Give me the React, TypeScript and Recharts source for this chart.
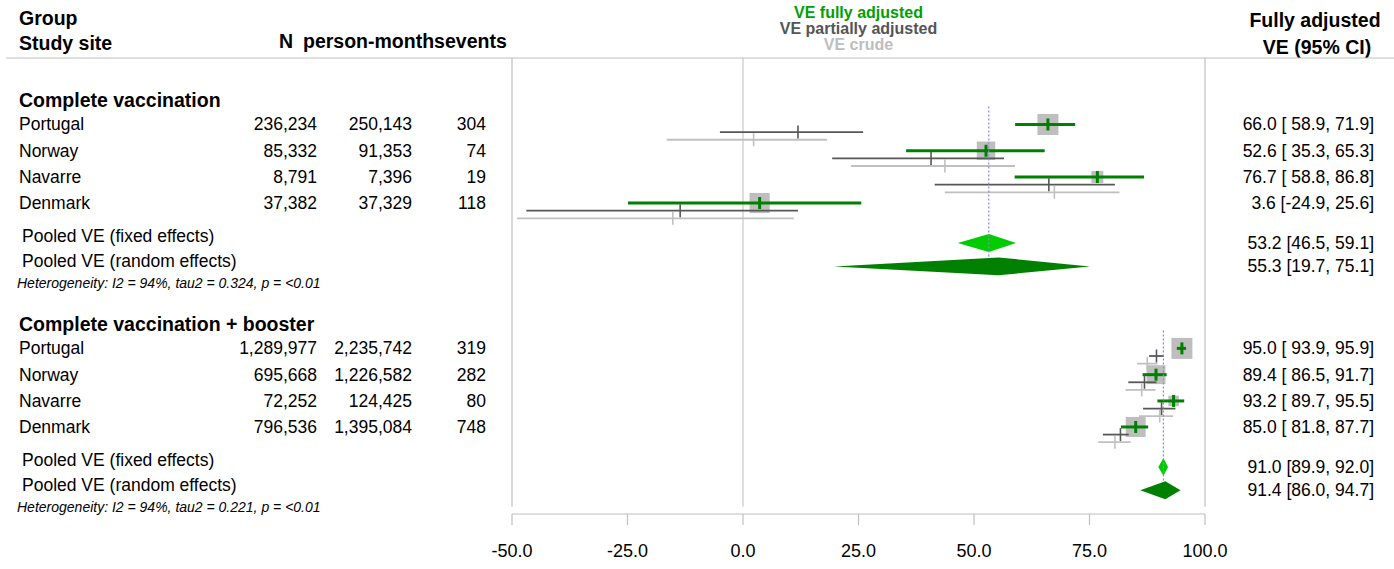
import React from 'react';
import { ComposedChart, XAxis, YAxis, Scatter } from 'recharts';

type Est = [number, number, number]; // [estimate, lower, upper]

// ---------------- data ----------------
const groupNames = ['Complete vaccination', 'Complete vaccination + booster'];
const studySites = ['Portugal', 'Norway', 'Navarre', 'Denmark'];

const nCompleted = ['236,234', '85,332', '8,791', '37,382'];
const personMonthsCompleted = ['250,143', '91,353', '7,396', '37,329'];
const eventsCompleted = ['304', '74', '19', '118'];

const nBooster = ['1,289,977', '695,668', '72,252', '796,536'];
const personMonthsBooster = ['2,235,742', '1,226,582', '124,425', '1,395,084'];
const eventsBooster = ['319', '282', '80', '748'];

const veFullCompleted: Est[] = [[66.0, 58.9, 71.9], [52.6, 35.3, 65.3], [76.7, 58.8, 86.8], [3.6, -24.9, 25.6]];
const vePartialCompleted: Est[] = [[11.9, -5.0, 26.0], [40.7, 19.3, 56.5], [66.2, 41.5, 80.5], [-13.6, -46.9, 11.9]];
const veCrudeCompleted: Est[] = [[2.3, -16.5, 18.2], [43.7, 23.4, 58.9], [67.4, 43.7, 81.5], [-15.2, -48.9, 11.0]];

const veFullBooster: Est[] = [[95.0, 93.9, 95.9], [89.4, 86.5, 91.7], [93.2, 89.7, 95.5], [85.0, 81.8, 87.7]];
const vePartialBooster: Est[] = [[89.5, 87.9, 91.1], [86.9, 83.4, 89.5], [90.6, 86.6, 93.6], [81.7, 77.9, 83.5]];
const veCrudeBooster: Est[] = [[87.5, 85.3, 89.7], [86.3, 82.8, 89.3], [90.2, 85.7, 93.1], [80.5, 76.9, 83.9]];

const boxWeightCompleted = [1.0, 0.88, 0.57, 0.96];
const boxWeightBooster = [1.0, 0.9, 0.5, 0.95];

const pooledFixed: Est[] = [[53.2, 46.5, 59.1], [91.0, 89.9, 92.0]];
const pooledRandom: Est[] = [[55.3, 19.7, 75.1], [91.4, 86.0, 94.7]];

const hetI2 = ['94%', '94%'];
const hetTau2 = ['0.324', '0.221'];
const hetP = ['<0.01', '<0.01'];

const xTicks = [-50, -25, 0, 25, 50, 75, 100];

// ---------------- layout / style ----------------
const FONT = '"Liberation Sans", Arial, Helvetica, sans-serif';
const W = 1394;
const H = 569;
const Y_MIN = -2.207;
const Y_MAX = 17.352;
const GROUP_SHIFT = [0, 8.52];
const R_HEADER = 1.6;
const R_STUDY = [2.53, 3.53, 4.53, 5.52];
const R_FIXED = 7.04;
const R_RANDOM = 7.93;
const R_FIXED_LABEL = 6.77;
const R_RANDOM_LABEL = 7.72;
const R_HET = 8.56;
const OFF_PARTIAL = 0.29;
const OFF_CRUDE = 0.58;
const DIAMOND_H = 0.34;
const GRID_BOTTOM = 17.08;

const GREEN = '#008000';
const GREEN_LIGHT = '#00CC00';
const DARK = '#575757';
const LIGHT = '#C0C0C0';
const BOX = '#BEBEBE';
const RULE = '#C0C0C0';

const COL = { name: 19, pooled: 22, het: 17, n: 317, pm: 412, ev: 486, ve: 1374 };

const groups = [
  { full: veFullCompleted, partial: vePartialCompleted, crude: veCrudeCompleted, box: boxWeightCompleted, n: nCompleted, pm: personMonthsCompleted, ev: eventsCompleted },
  { full: veFullBooster, partial: vePartialBooster, crude: veCrudeBooster, box: boxWeightBooster, n: nBooster, pm: personMonthsBooster, ev: eventsBooster },
];

const fmtStudy = (e: Est) => `${e[0].toFixed(1)} [${e[1].toFixed(1).padStart(5, ' ')}, ${e[2].toFixed(1)}]`;
const fmtPooled = (e: Est) => `${e[0].toFixed(1)} [${e[1].toFixed(1)}, ${e[2].toFixed(1)}]`;

const Empty = () => <g />;

function segment(key: string, pts: { x: number; y: number }[], stroke: string, width: number, dash?: string) {
  return (
    <Scatter
      key={key}
      data={pts}
      isAnimationActive={false}
      shape={Empty}
      lineType="joint"
      line={(p: any) => (
        <polyline
          points={(p.points || []).map((q: any) => `${q.x},${q.y}`).join(' ')}
          fill="none"
          stroke={stroke}
          strokeWidth={width}
          strokeDasharray={dash}
        />
      )}
    />
  );
}

function diamond(key: string, e: Est, row: number, fill: string) {
  const pts = [
    { x: e[1], y: row },
    { x: e[0], y: row - DIAMOND_H },
    { x: e[2], y: row },
    { x: e[0], y: row + DIAMOND_H },
  ];
  return (
    <Scatter
      key={key}
      data={pts}
      isAnimationActive={false}
      shape={Empty}
      lineType="joint"
      line={(p: any) => (
        <polygon points={(p.points || []).map((q: any) => `${q.x},${q.y}`).join(' ')} fill={fill} stroke="none" />
      )}
    />
  );
}

const tickShape = (stroke: string, width: number, half: number) => (p: any) => (
  <line x1={p.cx} x2={p.cx} y1={p.cy - half} y2={p.cy + half} stroke={stroke} strokeWidth={width} />
);

const BoxShape = (p: any) => {
  const s = 21 * p.payload.w;
  return <rect x={p.cx - s / 2} y={p.cy - s / 2} width={s} height={s} fill={BOX} />;
};

const txt = (x: number, y: number, s: string, opts: any = {}) => (
  <text
    x={x}
    y={y}
    dominantBaseline="central"
    fontFamily={FONT}
    fontSize={opts.size || 17.5}
    fontWeight={opts.bold ? 'bold' : 'normal'}
    fontStyle={opts.italic ? 'italic' : 'normal'}
    textAnchor={opts.anchor || 'start'}
    fill={opts.fill || '#000'}
  >
    {s}
  </text>
);

const TextRowShape = (p: any) => {
  const d = p.payload;
  const cy = p.cy;
  switch (d.kind) {
    case 'group':
      return <g>{txt(COL.name, cy, d.label, { bold: true, size: 19.5 })}</g>;
    case 'study':
      return (
        <g>
          {txt(COL.name, cy, d.name)}
          {txt(COL.n, cy, d.n, { anchor: 'end' })}
          {txt(COL.pm, cy, d.pm, { anchor: 'end' })}
          {txt(COL.ev, cy, d.ev, { anchor: 'end' })}
          {txt(COL.ve, cy, d.ve, { anchor: 'end' })}
        </g>
      );
    case 'pooledLabel':
      return <g>{txt(COL.pooled, cy, d.label)}</g>;
    case 've':
      return <g>{txt(COL.ve, cy, d.ve, { anchor: 'end' })}</g>;
    case 'het':
      return <g>{txt(COL.het, cy, d.label, { italic: true, size: 14 })}</g>;
    default:
      return <g />;
  }
};

const HeaderShape = (p: any) => {
  const cy = p.cy;
  return (
    <g>
      {txt(19, cy - 39.7, 'Group', { bold: true, size: 19.5 })}
      {txt(19, cy - 14.7, 'Study site', { bold: true, size: 19.5 })}
      {txt(279, cy - 17.3, 'N', { bold: true, size: 19.5 })}
      {txt(303, cy - 17.3, 'person-months', { bold: true, size: 19.5 })}
      {txt(445, cy - 17.3, 'events', { bold: true, size: 19.5 })}
      {txt(858.5, cy - 45.3, 'VE fully adjusted', { bold: true, size: 16, anchor: 'middle', fill: '#00A000' })}
      {txt(858.5, cy - 29.7, 'VE partially adjusted', { bold: true, size: 16, anchor: 'middle', fill: '#555555' })}
      {txt(858.5, cy - 13, 'VE crude', { bold: true, size: 16, anchor: 'middle', fill: '#BEBEBE' })}
      {txt(1315, cy - 38, 'Fully adjusted', { bold: true, size: 19.5, anchor: 'middle' })}
      {txt(1317, cy - 11.3, 'VE (95% CI)', { bold: true, size: 19.5, anchor: 'middle' })}
      <line x1={6} x2={W} y1={cy} y2={cy} stroke={RULE} strokeWidth={1.2} />
    </g>
  );
};

export default function App() {
  const textRows: any[] = [];
  const boxes: any[] = [];
  const fullPts: any[] = [];
  const partialPts: any[] = [];
  const crudePts: any[] = [];
  const ciSegs: any[] = [];

  groups.forEach((g, gi) => {
    const s = GROUP_SHIFT[gi];
    textRows.push({ x: -50, y: R_HEADER + s, kind: 'group', label: groupNames[gi] });
    studySites.forEach((site, i) => {
      const r = R_STUDY[i] + s;
      textRows.push({ x: -50, y: r, kind: 'study', name: site, n: g.n[i], pm: g.pm[i], ev: g.ev[i], ve: fmtStudy(g.full[i]) });
      boxes.push({ x: g.full[i][0], y: r, w: g.box[i] });
      fullPts.push({ x: g.full[i][0], y: r });
      partialPts.push({ x: g.partial[i][0], y: r + OFF_PARTIAL });
      crudePts.push({ x: g.crude[i][0], y: r + OFF_CRUDE });
      ciSegs.push({ key: `c${gi}${i}`, e: g.crude[i], y: r + OFF_CRUDE, stroke: LIGHT, w: 1.8 });
      ciSegs.push({ key: `p${gi}${i}`, e: g.partial[i], y: r + OFF_PARTIAL, stroke: DARK, w: 1.8 });
      ciSegs.push({ key: `f${gi}${i}`, e: g.full[i], y: r, stroke: GREEN, w: 3 });
    });
    textRows.push({ x: -50, y: R_FIXED_LABEL + s, kind: 'pooledLabel', label: 'Pooled VE (fixed effects)' });
    textRows.push({ x: -50, y: R_RANDOM_LABEL + s, kind: 'pooledLabel', label: 'Pooled VE (random effects)' });
    textRows.push({ x: -50, y: R_FIXED + s, kind: 've', ve: fmtPooled(pooledFixed[gi]) });
    textRows.push({ x: -50, y: R_RANDOM + s, kind: 've', ve: fmtPooled(pooledRandom[gi]) });
    textRows.push({
      x: -50,
      y: R_HET + s,
      kind: 'het',
      label: `Heterogeneity: I2 = ${hetI2[gi]}, tau2 = ${hetTau2[gi]}, p = ${hetP[gi]}`,
    });
  });

  return (
    <div style={{ position: 'absolute', left: 0, top: 0, width: W, height: H, background: '#fff' }}>
      <ComposedChart width={W} height={H} margin={{ top: 0, right: 189, bottom: 0, left: 512 }}>
        <XAxis
          type="number"
          dataKey="x"
          scale="linear"
          domain={[-50, 100]}
          ticks={xTicks}
          interval={0}
          tickFormatter={(v: number) => v.toFixed(1)}
          axisLine={{ stroke: RULE, strokeWidth: 1.2 }}
          tickLine={{ stroke: RULE, strokeWidth: 1.2 }}
          tickSize={11}
          tickMargin={19}
          tick={{ fill: '#000', fontSize: 18, fontFamily: FONT }}
          height={55}
        />
        <YAxis type="number" dataKey="y" scale="linear" domain={[Y_MIN, Y_MAX]} reversed hide />

        {/* frame lines */}
        {segment('left', [{ x: -50, y: 0 }, { x: -50, y: GRID_BOTTOM }], RULE, 1.2)}
        {segment('right', [{ x: 100, y: 0 }, { x: 100, y: GRID_BOTTOM }], RULE, 1.2)}
        {segment('zero', [{ x: 0, y: 0 }, { x: 0, y: GRID_BOTTOM }], '#C8C8C8', 1.2)}

        {/* header */}
        <Scatter data={[{ x: -50, y: 0 }]} isAnimationActive={false} shape={HeaderShape} />

        {/* boxes */}
        <Scatter data={boxes} isAnimationActive={false} shape={BoxShape} />

        {/* confidence intervals */}
        {ciSegs.map((c) => segment(c.key, [{ x: c.e[1], y: c.y }, { x: c.e[2], y: c.y }], c.stroke, c.w))}

        {/* point estimate ticks */}
        <Scatter data={crudePts} isAnimationActive={false} shape={tickShape(LIGHT, 1.6, 6.5)} />
        <Scatter data={partialPts} isAnimationActive={false} shape={tickShape(DARK, 1.6, 6.5)} />
        <Scatter data={fullPts} isAnimationActive={false} shape={tickShape(GREEN, 3, 6)} />

        {/* pooled diamonds */}
        {pooledFixed.map((e, gi) => diamond(`fd${gi}`, e, R_FIXED + GROUP_SHIFT[gi], GREEN_LIGHT))}
        {pooledRandom.map((e, gi) => diamond(`rd${gi}`, e, R_RANDOM + GROUP_SHIFT[gi], GREEN))}

        {/* pooled fixed-effect reference lines */}
        {pooledFixed.map((e, gi) =>
          segment(
            `dash${gi}`,
            [
              { x: e[0], y: R_STUDY[0] + GROUP_SHIFT[gi] - 0.68 },
              { x: e[0], y: R_RANDOM + GROUP_SHIFT[gi] - 0.35 },
            ],
            '#8C8CCC',
            1.2,
            '2 2'
          )
        )}

        {/* table text */}
        <Scatter data={textRows} isAnimationActive={false} shape={TextRowShape} />
      </ComposedChart>
    </div>
  );
}
